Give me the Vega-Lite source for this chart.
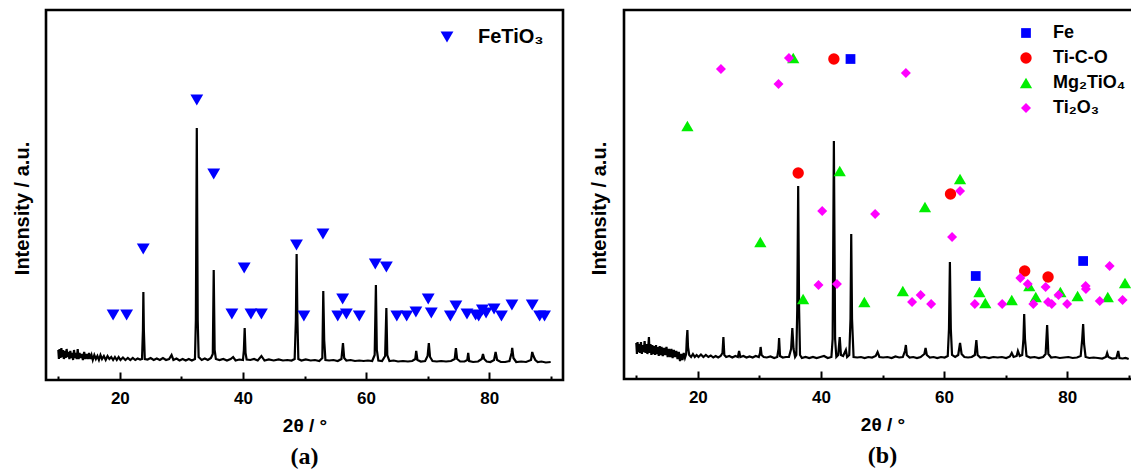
{
  "$schema": "https://vega.github.io/schema/vega-lite/v6.json",
  "padding": {"left": 10, "top": 8, "right": -11, "bottom": 0},
  "bounds": "flush",
  "spacing": 61,
  "config": {
    "font": "Liberation Sans",
    "view": {"stroke": "black", "strokeWidth": 2.6},
    "axis": {"grid": false, "domain": false}
  },
  "resolve": {"scale": {"color": "independent", "shape": "independent", "size": "independent"}, "legend": {"color": "independent", "shape": "independent", "size": "independent"}},
  "datasets": {
    "a_line": [
      {"t":10.0,"i":30},{"t":10.1,"i":21},{"t":10.2,"i":31},{"t":10.35,"i":22},{"t":10.5,"i":32},{"t":10.6,"i":23},{"t":10.75,"i":30},{"t":10.9,"i":21},{"t":11.05,"i":29},{"t":11.2,"i":22},{"t":11.35,"i":31},{"t":11.5,"i":23},{"t":11.65,"i":28},{"t":11.8,"i":21},{"t":11.95,"i":29},{"t":12.1,"i":22},{"t":12.25,"i":27},{"t":12.4,"i":20},{"t":12.55,"i":30},{"t":12.7,"i":22},{"t":12.85,"i":27},{"t":13.0,"i":21},{"t":13.15,"i":31},{"t":13.3,"i":21},{"t":13.45,"i":27},{"t":13.6,"i":22},{"t":13.8,"i":26},{"t":14.0,"i":20},{"t":14.2,"i":28},{"t":14.4,"i":21},{"t":14.6,"i":26},{"t":14.8,"i":21},{"t":15.0,"i":27},{"t":15.2,"i":21},{"t":15.4,"i":25},{"t":15.6,"i":20},{"t":15.85,"i":25},{"t":16.1,"i":21},{"t":16.35,"i":24},{"t":16.6,"i":20},{"t":16.85,"i":25},{"t":17.1,"i":21},{"t":17.4,"i":24},{"t":17.7,"i":20},{"t":18.0,"i":24},{"t":18.3,"i":21},{"t":18.6,"i":23},{"t":18.9,"i":20},{"t":19.2,"i":23},{"t":19.5,"i":20},{"t":19.8,"i":23},{"t":20.1,"i":20},{"t":20.5,"i":22.5},{"t":20.9,"i":20},{"t":21.3,"i":22},{"t":21.7,"i":20},{"t":22.1,"i":22},{"t":22.5,"i":20},{"t":22.9,"i":21.5},{"t":23.3,"i":20.5},{"t":23.6,"i":21},{"t":23.75,"i":50},{"t":23.82,"i":88},{"t":23.9,"i":50},{"t":24.05,"i":21},{"t":24.5,"i":20.5},{"t":25.0,"i":22},{"t":25.5,"i":20},{"t":26.0,"i":21.5},{"t":26.5,"i":20},{"t":27.0,"i":22},{"t":27.5,"i":20},{"t":28.0,"i":21},{"t":28.4,"i":25},{"t":28.7,"i":20},{"t":29.2,"i":21.5},{"t":29.7,"i":19.5},{"t":30.2,"i":21},{"t":30.7,"i":19.5},{"t":31.2,"i":21},{"t":31.7,"i":19.5},{"t":32.2,"i":21},{"t":32.35,"i":60},{"t":32.5,"i":252},{"t":32.65,"i":60},{"t":32.8,"i":23},{"t":33.3,"i":20},{"t":33.8,"i":21.5},{"t":34.3,"i":20},{"t":34.8,"i":22},{"t":35.1,"i":26},{"t":35.25,"i":110},{"t":35.4,"i":30},{"t":35.6,"i":21},{"t":36.2,"i":20},{"t":36.8,"i":21},{"t":37.4,"i":19.5},{"t":38.0,"i":21},{"t":38.4,"i":23},{"t":38.8,"i":19.5},{"t":39.4,"i":20.5},{"t":40.0,"i":20},{"t":40.15,"i":30},{"t":40.28,"i":52},{"t":40.42,"i":27},{"t":40.6,"i":20.5},{"t":41.2,"i":20},{"t":41.8,"i":21},{"t":42.4,"i":19.5},{"t":43.0,"i":24},{"t":43.5,"i":19.5},{"t":44.2,"i":20.5},{"t":45.0,"i":19.5},{"t":45.8,"i":20.5},{"t":46.5,"i":19.5},{"t":47.2,"i":20},{"t":47.9,"i":19.5},{"t":48.4,"i":21},{"t":48.6,"i":60},{"t":48.72,"i":126},{"t":48.85,"i":60},{"t":49.0,"i":21},{"t":49.5,"i":19.5},{"t":50.2,"i":20.5},{"t":51.0,"i":19.5},{"t":51.7,"i":20},{"t":52.4,"i":19},{"t":52.9,"i":22},{"t":53.05,"i":89},{"t":53.2,"i":40},{"t":53.4,"i":20},{"t":54.0,"i":19.5},{"t":54.7,"i":20},{"t":55.4,"i":19},{"t":56.0,"i":21},{"t":56.25,"i":37},{"t":56.45,"i":22},{"t":56.8,"i":19.5},{"t":57.5,"i":20},{"t":58.2,"i":19},{"t":58.9,"i":19.5},{"t":59.6,"i":19},{"t":60.3,"i":19.5},{"t":61.0,"i":19},{"t":61.4,"i":25},{"t":61.6,"i":95},{"t":61.75,"i":30},{"t":62.0,"i":19.5},{"t":62.6,"i":19},{"t":63.1,"i":24},{"t":63.3,"i":72},{"t":63.45,"i":25},{"t":63.8,"i":19},{"t":64.5,"i":19.5},{"t":65.2,"i":18.5},{"t":66.0,"i":19},{"t":66.8,"i":18.5},{"t":67.5,"i":19},{"t":68.0,"i":21},{"t":68.15,"i":29},{"t":68.35,"i":20},{"t":68.9,"i":18.5},{"t":69.6,"i":19},{"t":70.0,"i":24},{"t":70.2,"i":37},{"t":70.4,"i":23},{"t":70.8,"i":19},{"t":71.5,"i":18.5},{"t":72.2,"i":19},{"t":73.0,"i":18.5},{"t":73.8,"i":19},{"t":74.4,"i":21},{"t":74.6,"i":32},{"t":74.8,"i":21},{"t":75.3,"i":18.5},{"t":76.0,"i":18.5},{"t":76.45,"i":20},{"t":76.6,"i":27},{"t":76.75,"i":19},{"t":77.4,"i":18},{"t":78.2,"i":18.5},{"t":78.8,"i":21},{"t":79.0,"i":26},{"t":79.2,"i":21},{"t":79.6,"i":18.5},{"t":80.2,"i":18},{"t":80.8,"i":20},{"t":81.05,"i":28},{"t":81.3,"i":20},{"t":81.9,"i":18},{"t":82.6,"i":18},{"t":83.3,"i":19},{"t":83.65,"i":27},{"t":83.75,"i":32},{"t":83.95,"i":22},{"t":84.4,"i":18},{"t":85.2,"i":18.5},{"t":86.0,"i":18},{"t":86.8,"i":20},{"t":87.0,"i":28},{"t":87.2,"i":24},{"t":87.5,"i":20},{"t":87.9,"i":18},{"t":88.5,"i":18.5},{"t":89.2,"i":17.5},{"t":90.0,"i":18}
    ],
    "a_mark": [
      {"t":18.9,"i":65,"phase":"FeTiO₃"},{"t":21.1,"i":65,"phase":"FeTiO₃"},{"t":23.8,"i":131,"phase":"FeTiO₃"},{"t":32.5,"i":280,"phase":"FeTiO₃"},{"t":35.25,"i":206,"phase":"FeTiO₃"},{"t":38.2,"i":66,"phase":"FeTiO₃"},{"t":40.2,"i":112,"phase":"FeTiO₃"},{"t":41.3,"i":66,"phase":"FeTiO₃"},{"t":43.0,"i":66,"phase":"FeTiO₃"},{"t":48.7,"i":135,"phase":"FeTiO₃"},{"t":49.9,"i":64,"phase":"FeTiO₃"},{"t":53.0,"i":146,"phase":"FeTiO₃"},{"t":55.4,"i":64,"phase":"FeTiO₃"},{"t":56.2,"i":81,"phase":"FeTiO₃"},{"t":56.8,"i":66,"phase":"FeTiO₃"},{"t":58.9,"i":64,"phase":"FeTiO₃"},{"t":61.5,"i":116,"phase":"FeTiO₃"},{"t":63.3,"i":113,"phase":"FeTiO₃"},{"t":65.0,"i":64,"phase":"FeTiO₃"},{"t":66.6,"i":64,"phase":"FeTiO₃"},{"t":68.1,"i":68,"phase":"FeTiO₃"},{"t":70.1,"i":81,"phase":"FeTiO₃"},{"t":70.6,"i":67,"phase":"FeTiO₃"},{"t":73.7,"i":64,"phase":"FeTiO₃"},{"t":74.6,"i":74,"phase":"FeTiO₃"},{"t":76.4,"i":66,"phase":"FeTiO₃"},{"t":77.8,"i":65,"phase":"FeTiO₃"},{"t":78.3,"i":64,"phase":"FeTiO₃"},{"t":78.9,"i":70,"phase":"FeTiO₃"},{"t":79.5,"i":67,"phase":"FeTiO₃"},{"t":80.8,"i":71,"phase":"FeTiO₃"},{"t":82.0,"i":64,"phase":"FeTiO₃"},{"t":83.7,"i":75,"phase":"FeTiO₃"},{"t":87.0,"i":75,"phase":"FeTiO₃"},{"t":88.2,"i":64,"phase":"FeTiO₃"},{"t":89.0,"i":64,"phase":"FeTiO₃"}
    ],
    "b_line": [
      {"t":10.0,"i":36},{"t":10.1,"i":25},{"t":10.2,"i":37},{"t":10.35,"i":27},{"t":10.5,"i":35},{"t":10.6,"i":26},{"t":10.75,"i":37},{"t":10.9,"i":25},{"t":11.05,"i":34},{"t":11.2,"i":27},{"t":11.35,"i":38},{"t":11.5,"i":26},{"t":11.65,"i":35},{"t":11.8,"i":25},{"t":11.95,"i":33},{"t":12.05,"i":42},{"t":12.15,"i":26},{"t":12.3,"i":35},{"t":12.45,"i":24},{"t":12.6,"i":34},{"t":12.75,"i":25},{"t":12.9,"i":33},{"t":13.05,"i":24},{"t":13.2,"i":34},{"t":13.35,"i":25},{"t":13.5,"i":32},{"t":13.65,"i":23},{"t":13.8,"i":33},{"t":13.95,"i":24},{"t":14.1,"i":32},{"t":14.3,"i":23},{"t":14.5,"i":31},{"t":14.7,"i":24},{"t":14.9,"i":32},{"t":15.1,"i":22},{"t":15.3,"i":30},{"t":15.5,"i":22},{"t":15.7,"i":30},{"t":15.9,"i":21},{"t":16.1,"i":29},{"t":16.3,"i":22},{"t":16.5,"i":28},{"t":16.7,"i":20},{"t":16.9,"i":27},{"t":17.1,"i":18},{"t":17.3,"i":25},{"t":17.5,"i":19},{"t":17.7,"i":26},{"t":17.9,"i":21},{"t":18.1,"i":25},{"t":18.2,"i":40},{"t":18.3,"i":49},{"t":18.4,"i":32},{"t":18.6,"i":24},{"t":18.9,"i":22},{"t":19.2,"i":25},{"t":19.5,"i":22},{"t":19.8,"i":24},{"t":20.1,"i":22},{"t":20.5,"i":24.5},{"t":20.9,"i":22},{"t":21.3,"i":24},{"t":21.7,"i":22},{"t":22.1,"i":23.5},{"t":22.5,"i":21.5},{"t":22.9,"i":23},{"t":23.3,"i":21.5},{"t":23.7,"i":23},{"t":24.0,"i":26},{"t":24.15,"i":42},{"t":24.3,"i":24},{"t":24.6,"i":22},{"t":25.1,"i":23},{"t":25.6,"i":21.5},{"t":26.1,"i":23},{"t":26.5,"i":22},{"t":26.7,"i":28},{"t":26.9,"i":22},{"t":27.4,"i":23},{"t":27.9,"i":21.5},{"t":28.4,"i":22.5},{"t":28.9,"i":21.5},{"t":29.4,"i":23},{"t":29.9,"i":22},{"t":30.1,"i":26},{"t":30.2,"i":32},{"t":30.35,"i":24},{"t":30.7,"i":22},{"t":31.2,"i":21.5},{"t":31.8,"i":22.5},{"t":32.4,"i":21},{"t":32.9,"i":22},{"t":33.1,"i":30},{"t":33.2,"i":41},{"t":33.35,"i":23},{"t":33.8,"i":21.5},{"t":34.3,"i":22},{"t":34.8,"i":22},{"t":35.15,"i":30},{"t":35.35,"i":51},{"t":35.55,"i":30},{"t":35.8,"i":22},{"t":36.0,"i":24},{"t":36.15,"i":70},{"t":36.3,"i":193},{"t":36.45,"i":70},{"t":36.6,"i":24},{"t":36.9,"i":21},{"t":37.5,"i":22},{"t":38.1,"i":21},{"t":38.7,"i":22},{"t":39.3,"i":21},{"t":39.9,"i":22},{"t":40.5,"i":23},{"t":41.1,"i":21},{"t":41.7,"i":22},{"t":41.9,"i":40},{"t":42.1,"i":238},{"t":42.3,"i":40},{"t":42.5,"i":22},{"t":42.8,"i":24},{"t":43.05,"i":42},{"t":43.25,"i":24},{"t":43.6,"i":23},{"t":43.9,"i":27},{"t":44.05,"i":29},{"t":44.25,"i":22},{"t":44.6,"i":24},{"t":44.8,"i":60},{"t":44.92,"i":145},{"t":45.05,"i":60},{"t":45.3,"i":22},{"t":45.9,"i":21.5},{"t":46.5,"i":22},{"t":47.1,"i":21},{"t":47.7,"i":22},{"t":48.3,"i":21.5},{"t":48.9,"i":23},{"t":49.2,"i":27},{"t":49.5,"i":22},{"t":50.1,"i":21.5},{"t":50.8,"i":22},{"t":51.5,"i":21},{"t":52.1,"i":22.5},{"t":52.7,"i":21.5},{"t":53.3,"i":22},{"t":53.65,"i":28},{"t":53.8,"i":34},{"t":53.95,"i":24},{"t":54.4,"i":21.5},{"t":55.0,"i":22},{"t":55.6,"i":21},{"t":56.2,"i":22},{"t":56.8,"i":25},{"t":57.0,"i":31},{"t":57.2,"i":24},{"t":57.7,"i":21.5},{"t":58.3,"i":22},{"t":58.9,"i":21},{"t":59.5,"i":22},{"t":60.1,"i":21.5},{"t":60.6,"i":23},{"t":60.8,"i":50},{"t":60.95,"i":117},{"t":61.1,"i":50},{"t":61.3,"i":24},{"t":61.8,"i":22},{"t":62.3,"i":24},{"t":62.6,"i":36},{"t":62.85,"i":25},{"t":63.3,"i":22},{"t":63.9,"i":21.5},{"t":64.5,"i":22},{"t":65.0,"i":24},{"t":65.25,"i":39},{"t":65.45,"i":24},{"t":65.9,"i":21.5},{"t":66.6,"i":22},{"t":67.3,"i":21},{"t":68.0,"i":22},{"t":68.7,"i":21.5},{"t":69.4,"i":22},{"t":70.1,"i":21},{"t":70.7,"i":22.5},{"t":71.0,"i":26},{"t":71.3,"i":22},{"t":71.8,"i":23},{"t":72.0,"i":28},{"t":72.3,"i":23},{"t":72.7,"i":24},{"t":72.9,"i":40},{"t":73.02,"i":65},{"t":73.15,"i":40},{"t":73.4,"i":23},{"t":74.0,"i":21.5},{"t":74.7,"i":22},{"t":75.4,"i":21},{"t":76.1,"i":22},{"t":76.5,"i":25},{"t":76.75,"i":54},{"t":76.95,"i":25},{"t":77.4,"i":21.5},{"t":78.1,"i":22},{"t":78.8,"i":21},{"t":79.5,"i":21.5},{"t":80.2,"i":22},{"t":80.9,"i":21},{"t":81.6,"i":21.5},{"t":82.2,"i":23},{"t":82.45,"i":40},{"t":82.6,"i":55},{"t":82.75,"i":35},{"t":83.0,"i":22},{"t":83.6,"i":21},{"t":84.3,"i":21.5},{"t":85.0,"i":21},{"t":85.7,"i":20.5},{"t":86.3,"i":22},{"t":86.5,"i":26},{"t":86.7,"i":22},{"t":87.3,"i":20.5},{"t":88.0,"i":21},{"t":88.3,"i":28},{"t":88.5,"i":21},{"t":89.0,"i":20.5},{"t":89.5,"i":21},{"t":90.0,"i":20}
    ],
    "b_mark": [
      {"t":44.8,"i":320,"phase":"Fe"},{"t":65.15,"i":103,"phase":"Fe"},{"t":82.6,"i":118,"phase":"Fe"},
      {"t":42.1,"i":320,"phase":"Ti-C-O"},{"t":36.3,"i":206,"phase":"Ti-C-O"},{"t":61.05,"i":185,"phase":"Ti-C-O"},{"t":73.1,"i":108,"phase":"Ti-C-O"},{"t":76.9,"i":102,"phase":"Ti-C-O"},
      {"t":18.3,"i":253,"phase":"Mg₂TiO₄"},{"t":30.15,"i":137,"phase":"Mg₂TiO₄"},{"t":35.5,"i":321,"phase":"Mg₂TiO₄"},{"t":37.1,"i":80,"phase":"Mg₂TiO₄"},{"t":43.05,"i":208,"phase":"Mg₂TiO₄"},{"t":47.05,"i":77,"phase":"Mg₂TiO₄"},{"t":53.3,"i":88,"phase":"Mg₂TiO₄"},{"t":56.9,"i":172,"phase":"Mg₂TiO₄"},{"t":62.6,"i":200,"phase":"Mg₂TiO₄"},{"t":65.75,"i":87,"phase":"Mg₂TiO₄"},{"t":66.7,"i":76,"phase":"Mg₂TiO₄"},{"t":71.0,"i":79,"phase":"Mg₂TiO₄"},{"t":73.85,"i":93,"phase":"Mg₂TiO₄"},{"t":74.9,"i":82,"phase":"Mg₂TiO₄"},{"t":78.9,"i":87,"phase":"Mg₂TiO₄"},{"t":81.7,"i":83,"phase":"Mg₂TiO₄"},{"t":86.6,"i":82,"phase":"Mg₂TiO₄"},{"t":89.4,"i":96,"phase":"Mg₂TiO₄"},
      {"t":23.75,"i":310,"phase":"Ti₂O₃"},{"t":33.1,"i":295,"phase":"Ti₂O₃"},{"t":34.8,"i":321,"phase":"Ti₂O₃"},{"t":53.8,"i":306,"phase":"Ti₂O₃"},{"t":40.2,"i":168,"phase":"Ti₂O₃"},{"t":48.8,"i":165,"phase":"Ti₂O₃"},{"t":62.6,"i":188,"phase":"Ti₂O₃"},{"t":61.3,"i":142,"phase":"Ti₂O₃"},{"t":39.6,"i":94,"phase":"Ti₂O₃"},{"t":42.6,"i":95,"phase":"Ti₂O₃"},{"t":54.8,"i":77,"phase":"Ti₂O₃"},{"t":56.2,"i":84,"phase":"Ti₂O₃"},{"t":57.9,"i":75,"phase":"Ti₂O₃"},{"t":65.0,"i":75,"phase":"Ti₂O₃"},{"t":69.45,"i":75,"phase":"Ti₂O₃"},{"t":72.4,"i":101,"phase":"Ti₂O₃"},{"t":73.6,"i":95,"phase":"Ti₂O₃"},{"t":74.5,"i":75,"phase":"Ti₂O₃"},{"t":76.5,"i":92,"phase":"Ti₂O₃"},{"t":76.9,"i":77,"phase":"Ti₂O₃"},{"t":77.5,"i":75,"phase":"Ti₂O₃"},{"t":78.6,"i":84,"phase":"Ti₂O₃"},{"t":80.0,"i":75,"phase":"Ti₂O₃"},{"t":83.0,"i":93,"phase":"Ti₂O₃"},{"t":83.05,"i":90,"phase":"Ti₂O₃"},{"t":85.3,"i":78,"phase":"Ti₂O₃"},{"t":86.9,"i":113,"phase":"Ti₂O₃"},{"t":89.0,"i":79,"phase":"Ti₂O₃"}
    ]
  },
  "hconcat": [
    {
      "width": 517,
      "height": 370,
      "title": {"text": "(a)", "orient": "bottom", "anchor": "middle", "font": "Liberation Serif", "fontSize": 24, "fontWeight": "bold", "color": "black", "offset": 10},
      "layer": [
        {
          "data": {"name": "a_line"},
          "mark": {"type": "line", "color": "black", "strokeWidth": 2.2, "clip": true},
          "encoding": {
            "x": {"field": "t", "type": "quantitative", "scale": {"domain": [8, 92], "nice": false, "zero": false},
              "axis": {"values": [10, 20, 30, 40, 50, 60, 70, 80, 90], "labelExpr": "datum.value % 20 === 0 ? datum.label : ''",
                "tickSize": {"condition": {"test": "datum.value % 20 === 0", "value": -8}, "value": -4},
                "tickWidth": 2, "tickColor": "black", "labelFlush": false, "labelFontSize": 17, "labelFontWeight": "bold", "labelColor": "black", "labelPadding": 18,
                "title": "2θ / °", "titleFontSize": 19, "titleFontWeight": "bold", "titleColor": "black", "titlePadding": 10}},
            "y": {"field": "i", "type": "quantitative", "scale": {"domain": [0, 370], "nice": false},
              "axis": {"ticks": false, "labels": false, "title": "Intensity / a.u.", "titleFontSize": 20, "titleFontWeight": "bold", "titleColor": "black", "titlePadding": 14, "titleY": 198}}
          }
        },
        {
          "data": {"name": "a_mark"},
          "mark": {"type": "point", "shape": "triangle-down", "filled": true, "size": 165, "opacity": 1, "strokeWidth": 0},
          "encoding": {
            "x": {"field": "t", "type": "quantitative"},
            "y": {"field": "i", "type": "quantitative"},
            "color": {"field": "phase", "type": "nominal", "scale": {"domain": ["FeTiO₃"], "range": ["#0000ff"]},
              "legend": {"orient": "none", "legendX": 391, "legendY": 17, "title": null, "symbolType": "triangle-down", "symbolSize": 165, "symbolStrokeWidth": 0, "symbolOpacity": 1, "labelFontSize": 20, "labelFontWeight": "bold", "labelColor": "black", "labelOffset": 21}}
          }
        }
      ]
    },
    {
      "width": 517,
      "height": 369,
      "title": {"text": "(b)", "orient": "bottom", "anchor": "middle", "font": "Liberation Serif", "fontSize": 24, "fontWeight": "bold", "color": "black", "offset": 10},
      "layer": [
        {
          "data": {"name": "b_line"},
          "mark": {"type": "line", "color": "black", "strokeWidth": 2.2, "clip": true},
          "encoding": {
            "x": {"field": "t", "type": "quantitative", "scale": {"domain": [8, 92], "nice": false, "zero": false},
              "axis": {"values": [10, 20, 30, 40, 50, 60, 70, 80, 90], "labelExpr": "datum.value % 20 === 0 ? datum.label : ''",
                "tickSize": {"condition": {"test": "datum.value % 20 === 0", "value": -8}, "value": -4},
                "tickWidth": 2, "tickColor": "black", "labelFlush": false, "labelFontSize": 17, "labelFontWeight": "bold", "labelColor": "black", "labelPadding": 18,
                "title": "2θ / °", "titleFontSize": 19, "titleFontWeight": "bold", "titleColor": "black", "titlePadding": 10}},
            "y": {"field": "i", "type": "quantitative", "scale": {"domain": [0, 369], "nice": false},
              "axis": {"ticks": false, "labels": false, "title": "Intensity / a.u.", "titleFontSize": 20, "titleFontWeight": "bold", "titleColor": "black", "titlePadding": 15, "titleY": 198}}
          }
        },
        {
          "data": {"name": "b_mark"},
          "mark": {"type": "point", "filled": true, "opacity": 1, "strokeWidth": 0},
          "encoding": {
            "x": {"field": "t", "type": "quantitative"},
            "y": {"field": "i", "type": "quantitative"},
            "color": {"field": "phase", "type": "nominal", "scale": {"domain": ["Fe", "Ti-C-O", "Mg₂TiO₄", "Ti₂O₃"], "range": ["#0000ff", "#ff0000", "#00ee00", "#ff00ff"]},
              "legend": {"orient": "none", "legendX": 393, "legendY": 14, "title": null, "symbolStrokeWidth": 0, "symbolOpacity": 1, "labelFontSize": 18, "labelFontWeight": "bold", "labelColor": "black", "labelOffset": 18, "rowPadding": 7}},
            "shape": {"field": "phase", "type": "nominal", "scale": {"domain": ["Fe", "Ti-C-O", "Mg₂TiO₄", "Ti₂O₃"], "range": ["square", "circle", "triangle-up", "diamond"]}},
            "size": {"field": "phase", "type": "nominal", "scale": {"type": "ordinal", "domain": ["Fe", "Ti-C-O", "Mg₂TiO₄", "Ti₂O₃"], "range": [95, 130, 150, 100]}}
          }
        }
      ]
    }
  ]
}
